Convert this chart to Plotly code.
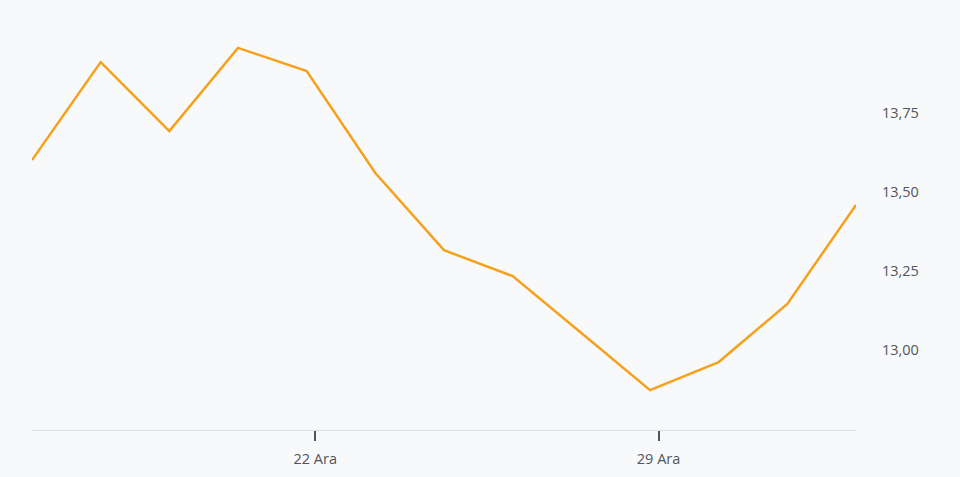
import plotly.graph_objects as go

dates = ["2023-12-15 21:00", "2023-12-18 21:00", "2023-12-19 21:00", "2023-12-20 21:00",
         "2023-12-21 21:00", "2023-12-22 21:00", "2023-12-25 21:00", "2023-12-26 21:00",
         "2023-12-27 21:00", "2023-12-28 21:00", "2023-12-29 21:00", "2024-01-01 21:00",
         "2024-01-02 21:00"]
values = [13.601, 13.911, 13.693, 13.956, 13.883, 13.560, 13.316, 13.234,
          13.054, 12.873, 12.962, 13.146, 13.459]
x_tick_vals = ["2023-12-22", "2023-12-29"]
x_tick_text = ["22 Ara", "29 Ara"]
y_tick_vals = [13.00, 13.25, 13.50, 13.75]

bg = "#f8f9fb"

fig = go.Figure()
fig.add_trace(go.Scatter(
    x=dates, y=values, mode="lines",
    line=dict(color="#f7a01c", width=2.5),
    hoverinfo="skip",
))

fig.update_layout(
    width=960, height=477,
    paper_bgcolor=bg, plot_bgcolor=bg,
    margin=dict(l=32, r=104, t=10, b=47),
    showlegend=False,
    separators=",.",
    font=dict(family="Open Sans", size=14.5, color="#50555b"),
)
fig.update_xaxes(
    type="date",
    range=[dates[0], dates[-1]],
    rangebreaks=[dict(bounds=["sat", "mon"])],
    tickmode="array", tickvals=x_tick_vals, ticktext=x_tick_text,
    ticks="outside", ticklen=10, tickwidth=1.5, tickcolor="#50555b",
    showline=True, linecolor="#dcdde0", linewidth=1,
    showgrid=False, zeroline=False,
    ticklabelstandoff=6,
)
fig.update_yaxes(
    side="right",
    range=[12.747, 14.076],
    tickmode="array", tickvals=y_tick_vals, tickformat=".2f",
    showgrid=False, zeroline=False, showline=False,
    ticks="", ticklabelstandoff=25,
)

fig.write_html(
    "out.html",
    config={"displayModeBar": False},
    post_script="document.body.style.margin='0';document.body.style.background='%s';" % bg,
)
